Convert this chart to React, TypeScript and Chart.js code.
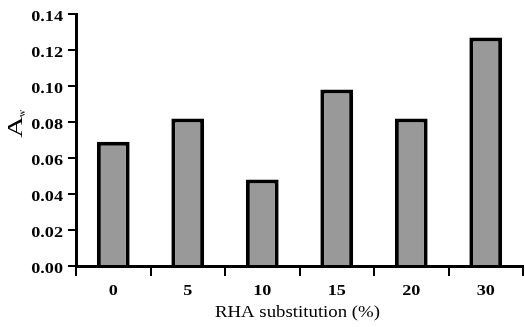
import React, { useEffect, useRef } from "react";
import { Chart, registerables } from "chart.js";

Chart.register(...registerables);

const categories = ["0", "5", "10", "15", "20", "30"];
const awValues = [0.069, 0.082, 0.048, 0.098, 0.082, 0.127];
const yMin = 0;
const yMax = 0.14;
const yStep = 0.02;
const xTitle = "RHA substitution (%)";
const yTitleMain = "A";
const yTitleSub = "w";

const SERIF = "'Liberation Serif', 'Times New Roman', serif";
const TICK_FONT = `bold 14px ${SERIF}`;
const TICK_STRETCH = 1.3;

function drawStretched(
  ctx: CanvasRenderingContext2D,
  text: string,
  x: number,
  y: number,
  sx: number,
  align: CanvasTextAlign,
  font: string
) {
  ctx.save();
  ctx.font = font;
  ctx.textAlign = align;
  ctx.textBaseline = "alphabetic";
  ctx.fillStyle = "#000";
  ctx.translate(x, y);
  ctx.scale(sx, 1);
  ctx.fillText(text, 0, 0);
  ctx.restore();
}

const textPlugin = {
  id: "textPlugin",
  afterDraw(chart: any) {
    const ctx: CanvasRenderingContext2D = chart.ctx;
    const xs = chart.scales.x;
    const ys = chart.scales.y;

    // y tick labels
    ys.ticks.forEach((t: any, i: number) => {
      const py = ys.getPixelForTick(i);
      drawStretched(ctx, Number(t.value).toFixed(2), ys.right - 13, py + 7, TICK_STRETCH, "right", TICK_FONT);
    });

    // x tick labels
    xs.ticks.forEach((t: any, i: number) => {
      const px = xs.getPixelForTick(i);
      drawStretched(ctx, String(categories[i]), px, xs.top + 29, TICK_STRETCH, "center", TICK_FONT);
    });

    // x title
    drawStretched(
      ctx,
      xTitle,
      (chart.chartArea.left + chart.chartArea.right) / 2 - 2,
      xs.top + 51,
      1.14,
      "center",
      `16.5px ${SERIF}`
    );

    // y title A_w
    const cy = (ys.getPixelForValue(0.07) + ys.getPixelForValue(0.08)) / 2 - 4;
    ctx.save();
    ctx.translate(22, cy);
    ctx.rotate(-Math.PI / 2);
    ctx.fillStyle = "#000";
    ctx.textBaseline = "alphabetic";
    ctx.font = `22px ${SERIF}`;
    ctx.save();
    ctx.scale(1.35, 1);
    ctx.textAlign = "center";
    ctx.fillText(yTitleMain, 0, 0);
    ctx.restore();
    ctx.font = `10px ${SERIF}`;
    ctx.textAlign = "left";
    ctx.fillText(yTitleSub, 10, 3);
    ctx.restore();
  },
};

export default function App() {
  const canvasRef = useRef<HTMLCanvasElement>(null);

  useEffect(() => {
    document.body.style.margin = "0";
    const canvas = canvasRef.current;
    if (!canvas) return;
    const chart = new Chart(canvas, {
      type: "bar",
      data: {
        labels: categories,
        datasets: [
          {
            data: awValues,
            backgroundColor: "#999999",
            borderColor: "#000000",
            borderWidth: 4,
            barPercentage: 0.44,
            categoryPercentage: 1,
          },
        ],
      },
      options: {
        animation: false,
        responsive: false,
        maintainAspectRatio: false,
        devicePixelRatio: 1,
        layout: { padding: { top: 14, right: 2, left: 0, bottom: 0 } },
        plugins: {
          legend: { display: false },
          tooltip: { enabled: false },
          title: { display: false },
        },
        scales: {
          x: {
            afterFit: (scale: any) => {
              scale.height = 61;
            },
            grid: {
              offset: true,
              drawOnChartArea: false,
              drawTicks: true,
              tickLength: 10,
              color: "#000",
              lineWidth: 2,
            },
            border: { display: true, color: "#000", width: 3 },
            ticks: { display: false },
            title: { display: false },
          },
          y: {
            min: yMin,
            max: yMax,
            afterFit: (scale: any) => {
              scale.width = 76;
            },
            grid: {
              drawOnChartArea: false,
              drawTicks: true,
              tickLength: 8,
              color: "#000",
              lineWidth: 2,
            },
            border: { display: true, color: "#000", width: 3 },
            ticks: {
              display: false,
              stepSize: yStep,
            },
          },
        },
      },
      plugins: [textPlugin],
    });
    return () => chart.destroy();
  }, []);

  return (
    <div style={{ width: 525, height: 327, background: "#fff" }}>
      <canvas ref={canvasRef} width={525} height={327} style={{ display: "block" }} />
    </div>
  );
}
